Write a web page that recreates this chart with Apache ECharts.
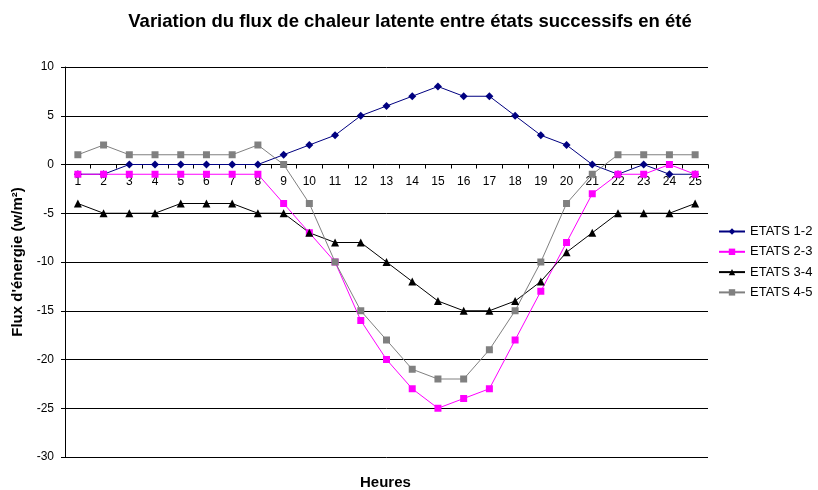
<!DOCTYPE html>
<html>
<head>
<meta charset="utf-8">
<script src="https://cdn.jsdelivr.net/npm/echarts@6/dist/echarts.min.js"></script>
<style>
  html, body { margin: 0; padding: 0; background: #fff; }
  #chart { width: 818px; height: 490px; }
</style>
</head>
<body>
<div id="chart"></div>
<script>
// Hours of the day
const heures = ['1','2','3','4','5','6','7','8','9','10','11','12','13','14','15','16','17','18','19','20','21','22','23','24','25'];

// Latent heat flux variation (W/m²) between successive states
const etats12 = [-1, -1, 0, 0, 0, 0, 0, 0, 1, 2, 3, 5, 6, 7, 8, 7, 7, 5, 3, 2, 0, -1, 0, -1, -1];
const etats23 = [-1, -1, -1, -1, -1, -1, -1, -1, -4, -7, -10, -16, -20, -23, -25, -24, -23, -18, -13, -8, -3, -1, -1, 0, -1];
const etats34 = [-4, -5, -5, -5, -4, -4, -4, -5, -5, -7, -8, -8, -10, -12, -14, -15, -15, -14, -12, -9, -7, -5, -5, -5, -4];
const etats45 = [1, 2, 1, 1, 1, 1, 1, 2, 0, -4, -10, -15, -18, -21, -22, -22, -19, -15, -10, -4, -1, 1, 1, 1, 1];

const yTicks = { min: -30, max: 10, step: 5 };

const FONT = '"Liberation Sans", Arial, sans-serif';
const PLOT = { left: 65, right: 110, top: 67, bottom: 33 };

function serie(name, data, color, symbol, size) {
  return {
    name: name,
    type: 'line',
    data: data,
    symbol: symbol,
    symbolSize: size,
    showSymbol: true,
    z: 5,
    lineStyle: { color: color, width: 1 },
    itemStyle: { color: color, borderWidth: 0 },
    emphasis: { disabled: true },
    animation: false
  };
}

const chart = echarts.init(document.getElementById('chart'));

function buildOption(zeroBottom) {
  return {
    backgroundColor: '#fff',
    animation: false,
    textStyle: { fontFamily: FONT },
    title: {
      text: 'Variation du flux de chaleur latente entre états successifs en été',
      left: 405,
      textAlign: 'center',
      top: 7,
      textStyle: { fontFamily: FONT, fontSize: 18.5, fontWeight: 'bold', color: '#000' }
    },
    legend: {
      orient: 'vertical',
      left: 713,
      top: 220,
      itemWidth: 26,
      itemHeight: 8,
      itemGap: 7.3,
      textStyle: { fontFamily: FONT, fontSize: 13, color: '#000' },
      data: ['ETATS 1-2', 'ETATS 2-3', 'ETATS 3-4', 'ETATS 4-5']
    },
    grid: [
      // plot area
      { left: PLOT.left, right: PLOT.right, top: PLOT.top, bottom: PLOT.bottom, containLabel: false },
      // band whose bottom edge sits on the zero line: carries the hour axis
      { left: PLOT.left, right: PLOT.right, top: PLOT.top, bottom: zeroBottom, containLabel: false }
    ],
    xAxis: [
      {
        type: 'category', gridIndex: 0, data: heures, boundaryGap: true,
        axisLine: { show: false }, axisTick: { show: false }, axisLabel: { show: false },
        splitLine: { show: false }
      },
      {
        type: 'category', gridIndex: 1, data: heures, boundaryGap: true, position: 'bottom',
        axisLine: { show: true, onZero: false, lineStyle: { color: '#000', width: 1 } },
        axisTick: { show: true, interval: 0, length: 4, lineStyle: { color: '#000' } },
        axisLabel: { interval: 0, margin: 11, fontFamily: FONT, fontSize: 12, color: '#000' },
        splitLine: { show: false }
      }
    ],
    yAxis: [
      {
        type: 'value', gridIndex: 0,
        min: yTicks.min, max: yTicks.max, interval: yTicks.step,
        name: "Flux d'énergie (w/m²)",
        nameLocation: 'middle',
        nameGap: 40,
        nameRotate: 90,
        nameTextStyle: { fontFamily: FONT, fontSize: 15, fontWeight: 'bold', color: '#000' },
        axisLine: { show: true, onZero: false, lineStyle: { color: '#000', width: 1 } },
        axisTick: { show: true, length: 4, lineStyle: { color: '#000' } },
        axisLabel: { margin: 11, fontFamily: FONT, fontSize: 12, color: '#000' },
        splitLine: { show: true, lineStyle: { color: '#000', width: 1 } }
      },
      {
        type: 'value', gridIndex: 1, min: 0, max: 1, show: false
      }
    ],
    series: [
      serie('ETATS 1-2', etats12, '#000080', 'diamond', 8),
      serie('ETATS 2-3', etats23, '#FF00FF', 'rect', 7),
      serie('ETATS 3-4', etats34, '#000000', 'triangle', 8),
      serie('ETATS 4-5', etats45, '#808080', 'rect', 7)
    ],
    graphic: [{
      type: 'text',
      left: 360,
      top: 475,
      style: { text: 'Heures', font: 'bold 15px ' + FONT, fill: '#000' }
    }]
  };
}

// First pass lays out the value axis; the hour axis is then placed on its zero line
chart.setOption(buildOption(PLOT.bottom));
const zeroY = chart.convertToPixel({ yAxisIndex: 0 }, 0);
chart.setOption(buildOption(490 - zeroY));
</script>
</body>
</html>
